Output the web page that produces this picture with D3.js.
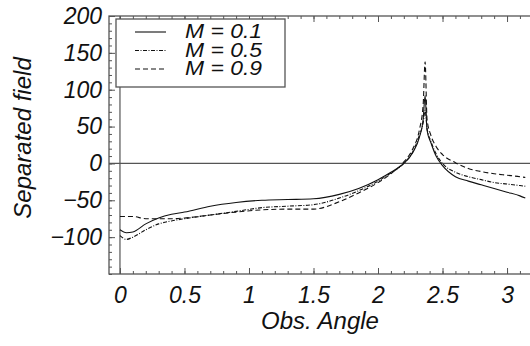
<!DOCTYPE html>
<html lang="en">
  <head>
    <meta charset="UTF-8" />
    <title>Separated field</title>
    <style>
      body { margin: 0; background: #fff; }
      text { font-family: "Liberation Sans", Arial, sans-serif; font-style: italic; fill: #111; }
      .curve { fill: none; stroke: #111; stroke-width: 1.1; }
      .tick line { stroke: #555; }
    </style>
  </head>
  <body>
    <svg id="chart" width="530" height="346"></svg>
  </body>
  <script src="https://cdn.jsdelivr.net/npm/d3@7"></script>
  <script>
    // observation angles (rad) where the curves were read
    const angles = [0, 0.05, 0.1, 0.2, 0.3, 0.4, 0.5, 0.7, 0.9, 1.1, 1.3, 1.5, 1.7, 1.85, 2.0, 2.1, 2.2,
      2.27, 2.32, 2.35, 2.365, 2.38, 2.41, 2.45, 2.5, 2.6, 2.7, 2.8, 2.9, 3.0, 3.1, 3.1416];
    const fieldM01 = [-90, -94, -93, -82, -74, -69, -66, -58, -53, -50, -49, -48, -42, -34, -22, -12, 0,
      15, 35, 60, 92, 45, 28, 10, -3, -18, -24, -29, -34, -39, -44, -47];
    const fieldM05 = [-98, -103, -100, -90, -82, -78, -75, -70, -65, -60, -58, -56, -47, -37, -24, -13, 0,
      16, 38, 55, 72, 48, 30, 13, 0, -12, -18, -22, -26, -28, -30, -31];
    const fieldM09 = [-72, -72, -72, -75, -75, -75, -74, -70, -66, -63, -62, -62, -52, -40, -26, -14, 2,
      20, 45, 80, 138, 60, 38, 23, 12, 1, -7, -11, -14, -16, -18, -19];
    const legendLabels = ["M = 0.1", "M = 0.5", "M = 0.9"];
    const dashes = [null, "4,1.5,1,1.5", "5,3"];
    const xMajor = [0, 0.5, 1, 1.5, 2, 2.5, 3];
    const yMajor = [-100, -50, 0, 50, 100, 150, 200];

    const svg = d3.select("#chart");
    const pLeft = 109, pTop = 16, pBottom = 274, pRight = 538;

    const x = d3.scaleLinear().domain([-0.085, 3.24]).range([pLeft, pRight]);
    const y = d3.scaleLinear().domain([-150, 200]).range([pBottom, pTop]);

    // minor ticks
    const xMinor = d3.range(0, 3.25, 0.1);
    const yMinor = d3.range(-150, 201, 10);
    svg.append("g").attr("transform", `translate(0,${pBottom})`)
      .call(d3.axisBottom(x).tickValues(xMinor).tickSize(-3).tickFormat(""));
    svg.append("g").attr("transform", `translate(0,${pTop})`)
      .call(d3.axisTop(x).tickValues(xMinor).tickSize(-3).tickFormat(""));
    svg.append("g").attr("transform", `translate(${pLeft},0)`)
      .call(d3.axisLeft(y).tickValues(yMinor).tickSize(-3).tickFormat(""));

    // major ticks with labels
    const xAxis = svg.append("g").attr("transform", `translate(0,${pBottom})`)
      .call(d3.axisBottom(x).tickValues(xMajor).tickSize(-6).tickPadding(13).tickFormat(d3.format("")));
    svg.append("g").attr("transform", `translate(0,${pTop})`)
      .call(d3.axisTop(x).tickValues(xMajor).tickSize(-6).tickFormat(""));
    const yAxis = svg.append("g").attr("transform", `translate(${pLeft},0)`)
      .call(d3.axisLeft(y).tickValues(yMajor).tickSize(-6).tickPadding(7).tickFormat(d3.format("")));
    svg.selectAll(".domain").remove();
    svg.selectAll("g").attr("font-family", null).attr("font-size", null);
    xAxis.selectAll("text").attr("font-size", 23);
    yAxis.selectAll("text").attr("font-size", 23);

    // frame
    svg.append("rect").attr("x", pLeft).attr("y", pTop)
      .attr("width", pRight - pLeft).attr("height", pBottom - pTop)
      .attr("fill", "none").attr("stroke", "#555").attr("stroke-width", 1.3);

    // axes through the origin
    svg.append("line").attr("x1", pLeft).attr("x2", pRight).attr("y1", y(0)).attr("y2", y(0))
      .attr("stroke", "#555").attr("stroke-width", 1.2);
    svg.append("line").attr("x1", x(0)).attr("x2", x(0)).attr("y1", pTop).attr("y2", pBottom)
      .attr("stroke", "#555").attr("stroke-width", 1.2);

    // curves
    const series = [fieldM01, fieldM05, fieldM09];
    const line = d3.line().x((d, i) => x(angles[i])).y(d => y(d)).curve(d3.curveMonotoneX);
    series.forEach((s, i) => {
      svg.append("path").datum(s).attr("class", "curve").attr("d", line)
        .attr("stroke-dasharray", dashes[i]);
    });

    // legend
    const lg = svg.append("g");
    lg.append("rect").attr("x", 116).attr("y", 19).attr("width", 169).attr("height", 68)
      .attr("fill", "#fff").attr("stroke", "#555").attr("stroke-width", 1.3);
    legendLabels.forEach((lab, i) => {
      const base = 38 + i * 18.5;
      lg.append("line").attr("x1", 135).attr("x2", 166).attr("y1", base - 6).attr("y2", base - 6)
        .attr("class", "curve").attr("stroke-dasharray", dashes[i]);
      lg.append("text").attr("x", 185).attr("y", base).attr("font-size", 20)
        .attr("textLength", 77).attr("lengthAdjust", "spacingAndGlyphs").text(lab);
    });

    // axis titles
    svg.append("text").attr("x", 320).attr("y", 329).attr("text-anchor", "middle")
      .attr("font-size", 24).text("Obs. Angle");
    svg.append("text").attr("transform", "translate(31,138) rotate(-90)")
      .attr("text-anchor", "middle").attr("font-size", 24).text("Separated field");
  </script>
</html>
